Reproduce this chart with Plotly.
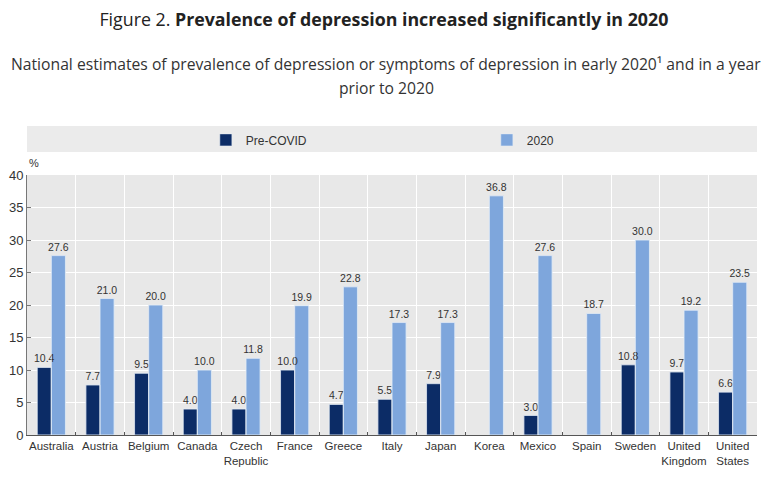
import plotly.graph_objects as go

# values
countries = ["Australia", "Austria", "Belgium", "Canada", "Czech<br>Republic", "France",
             "Greece", "Italy", "Japan", "Korea", "Mexico", "Spain", "Sweden",
             "United<br>Kingdom", "United<br>States"]
pre_covid = [10.4, 7.7, 9.5, 4.0, 4.0, 10.0, 4.7, 5.5, 7.9, None, 3.0, None, 10.8, 9.7, 6.6]
y2020 = [27.6, 21.0, 20.0, 10.0, 11.8, 19.9, 22.8, 17.3, 17.3, 36.8, 27.6, 18.7, 30.0, 19.2, 23.5]

DARK = "#0c2c66"
LIGHT = "#7ea6dc"
NARROW = "Liberation Sans Narrow, Arial Narrow, Liberation Sans, sans-serif"

series = [("Pre-COVID", pre_covid, DARK, "a"), ("2020", y2020, LIGHT, "b")]

fig = go.Figure()
for name, vals, col, grp in series:
    fig.add_trace(go.Bar(x=countries, y=vals, name=name, marker_color=col,
                         offsetgroup=grp, hoverinfo="x+y+name"))
# value labels drawn last so the neighbouring bar does not cover them
for name, vals, col, grp in series:
    fig.add_trace(go.Bar(x=countries, y=vals, name=name, showlegend=False, offsetgroup=grp,
                         marker=dict(color="rgba(0,0,0,0)"), hoverinfo="skip",
                         texttemplate="%{y:.1f}", textposition="outside", constraintext="none",
                         textfont=dict(family=NARROW, size=10.5, color="#333333"),
                         cliponaxis=False))

# page body adds an 8px margin, so the figure is a bit smaller than the window
fig.update_layout(
    width=764, height=488,
    margin=dict(l=19, r=15, t=167, b=61, autoexpand=False),
    paper_bgcolor="white",
    plot_bgcolor="#e8e8e8",
    barmode="group",
    bargap=0.42,
    bargroupgap=0,
    font=dict(family=NARROW, size=12, color="#333333"),
    title=dict(text="Figure 2. <b>Prevalence of depression increased significantly in 2020</b>",
               x=0.492, xanchor="center", y=0.975, yanchor="middle",
               font=dict(family="Open Sans, sans-serif", size=17.8, color="#222222")),
    showlegend=True,
    legend=dict(orientation="h", x=0.245, xanchor="left", y=1.135, yanchor="middle",
                bgcolor="rgba(0,0,0,0)", entrywidth=236, entrywidthmode="pixels",
                font=dict(family=NARROW, size=12, color="#333333"), traceorder="normal"),
    xaxis=dict(tickson="boundaries", showgrid=True, gridcolor="white", gridwidth=1,
               showline=True, linecolor="#555555", linewidth=1, tickangle=0,
               ticks="inside", ticklen=3, tickcolor="#555555",
               tickfont=dict(family=NARROW, size=11.5, color="#333333")),
    yaxis=dict(range=[0, 40], dtick=5, showgrid=True, gridcolor="white", gridwidth=1,
               showline=True, linecolor="#777777", linewidth=1,
               ticks="inside", ticklen=4, tickcolor="#777777", zeroline=False,
               tickfont=dict(family=NARROW, size=13, color="#333333")),
)

# grey band behind the legend
fig.add_shape(type="rect", xref="paper", yref="paper", x0=0, x1=1, y0=1.088, y1=1.188,
              fillcolor="#ebebeb", line_width=0, layer="below")

subtitle = ["National estimates of prevalence of depression or symptoms of depression in early 2020¹ and in a year",
            "prior to 2020"]
for line, yy in zip(subtitle, [1.427, 1.335]):
    fig.add_annotation(text=line, xref="paper", yref="paper", x=0.492, y=yy,
                       xanchor="center", yanchor="middle", showarrow=False,
                       font=dict(family="Open Sans, sans-serif", size=15.7, color="#333333"))
fig.add_annotation(text="%", xref="paper", yref="paper", x=0.0, y=1.045, xanchor="left",
                   yanchor="middle", showarrow=False,
                   font=dict(family=NARROW, size=11, color="#333333"))

fig.write_html("out.html")
